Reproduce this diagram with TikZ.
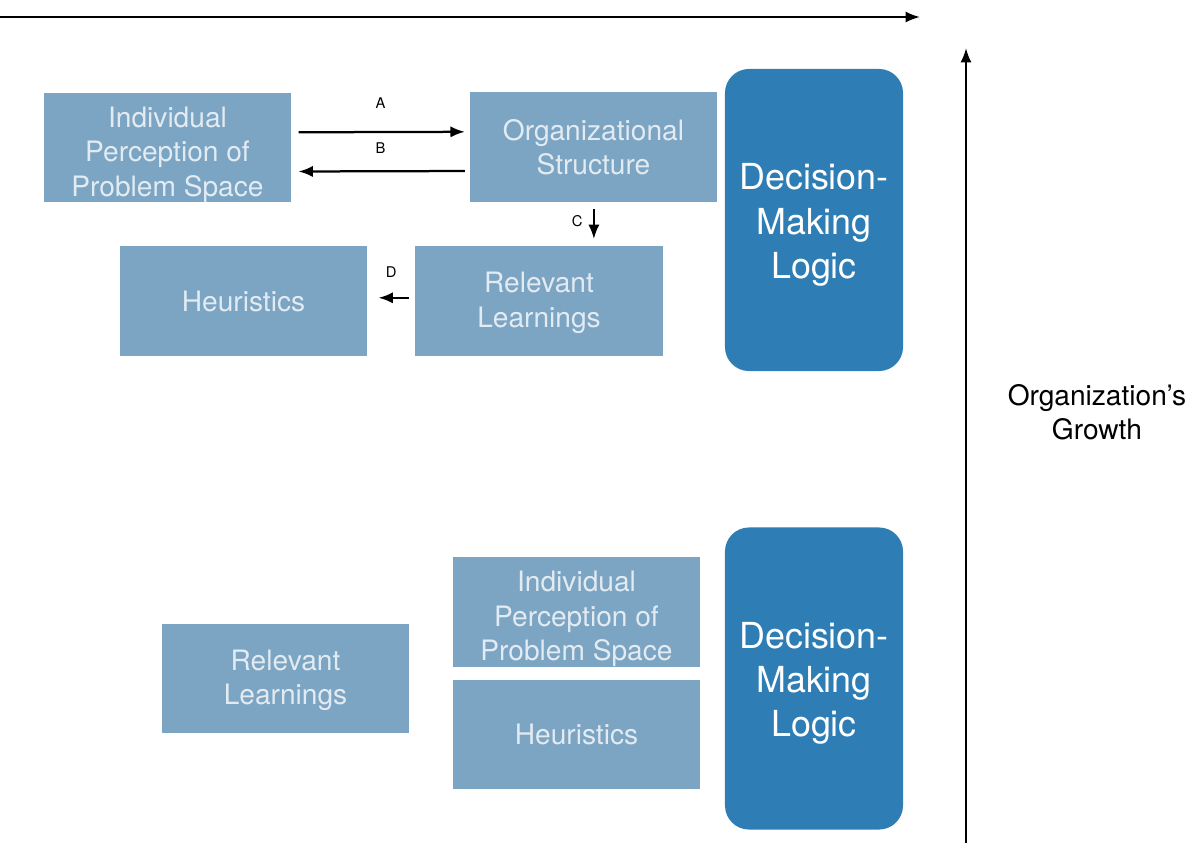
\documentclass[tikz,border=0pt]{standalone}
\usepackage{fontspec}
\setmainfont{TeX Gyre Heros}
\usepackage{tikz}
\usetikzlibrary{arrows.meta}

\definecolor{boxblue}{RGB}{124,164,195}
\definecolor{boxtext}{RGB}{226,235,242}
\definecolor{logicblue}{RGB}{46,125,180}

% invisible strut that pushes the first line of a node down
\newcommand{\pushdown}[1]{\rule{0pt}{#1}}

\tikzset{
  box/.style={fill=boxblue,text=boxtext,align=center,minimum width=6.175cm,minimum height=2.725cm,
    inner sep=0pt,font=\fontsize{20}{24.5}\selectfont},
  logic/.style={fill=logicblue,text=white,align=center,rounded corners=0.6cm,minimum width=4.45cm,
    minimum height=7.55cm,inner sep=0pt,font=\fontsize{25.5}{31.5}\selectfont},
  arr/.style={->,line width=1.6pt},
  lbl/.style={font=\fontsize{10.5}{12}\selectfont,inner sep=0pt}
}

\begin{document}
\begin{tikzpicture}[x=0.025cm,y=-0.025cm,>={Latex[length=3.6mm,width=2.8mm]}]
\useasboundingbox (0,0) rectangle (1197,843);

% growth axes
\coordinate (xstart) at (0,17);
\coordinate (xend) at (920,17);
\coordinate (ybot) at (966,843);
\coordinate (ytop) at (966,48);
\draw[arr] (xstart) -- (xend);
\draw[arr] (ybot) -- (ytop);
\node[align=center,font=\fontsize{20}{24.5}\selectfont] (growth) at (1097,412) {Organization's\\Growth};

% upper stage
\node[box] (ipps1) at (167.5,147.5) {\pushdown{0.86cm}Individual\\Perception of\\Problem Space};
\node[box] (org) at (593.5,147) {Organizational\\Structure};
\node[box] (heur1) at (243.5,301) {Heuristics};
\node[box] (rel1) at (539,301) {\pushdown{0.6cm}Relevant\\Learnings};
\node[logic] (dml1) at (814,220) {\pushdown{0.9cm}Decision-\\Making\\Logic};

\draw[arr,shorten <=0.18cm,shorten >=0.12cm] ([yshift=0.38cm]ipps1.east) -- ([yshift=0.38cm]org.west)
  node[lbl,midway,yshift=0.72cm] (la) {A};
\draw[arr,shorten <=0.12cm,shorten >=0.18cm] ([yshift=-0.6cm]org.west) -- ([yshift=-0.6cm]ipps1.east)
  node[lbl,midway,yshift=0.58cm] (lb) {B};
\draw[arr,shorten <=0.18cm,shorten >=0.18cm] ([xshift=0.01cm]org.south) -- ([xshift=0.01cm]org.south |- rel1.north)
  node[lbl,midway,xshift=-0.42cm,yshift=0.08cm] (lc) {C};
\draw[arr,shorten <=0.15cm,shorten >=0.28cm] ([yshift=0.08cm]rel1.west) -- ([yshift=0.08cm]heur1.east)
  node[lbl,midway,yshift=0.65cm] (ld) {D};

% lower stage
\node[box] (rel2) at (285.5,678.5) {\pushdown{0.6cm}Relevant\\Learnings};
\node[box] (ipps2) at (576.5,612) {\pushdown{0.86cm}Individual\\Perception of\\Problem Space};
\node[box] (heur2) at (576.5,734.5) {Heuristics};
\node[logic] (dml2) at (814,678.5) {\pushdown{0.9cm}Decision-\\Making\\Logic};
\end{tikzpicture}
\end{document}
